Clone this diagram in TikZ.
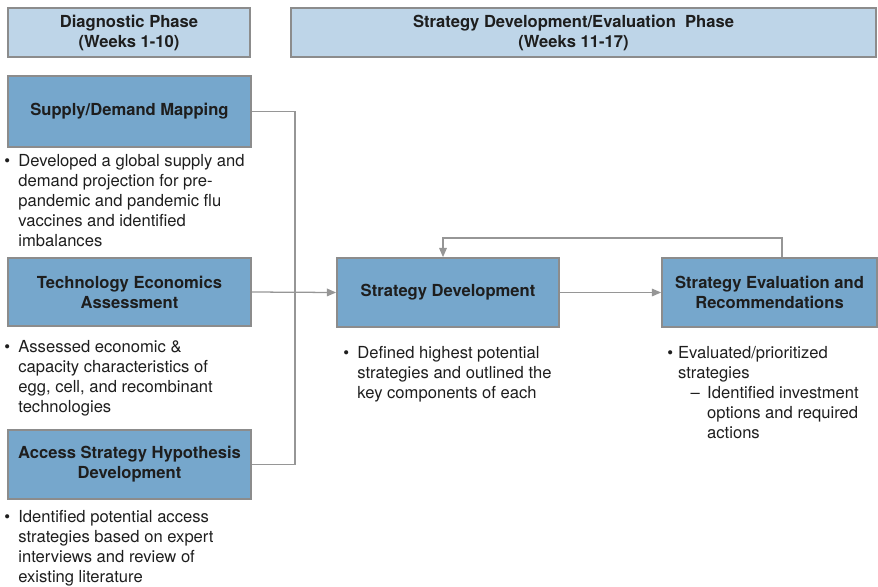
\documentclass[tikz,border=0pt]{standalone}
\usepackage{fontspec}
\setmainfont{TeX Gyre Heros}
\usetikzlibrary{arrows.meta}
\definecolor{headblue}{RGB}{190,213,232}
\definecolor{boxblue}{RGB}{118,167,204}
\definecolor{edgegray}{RGB}{140,140,140}
\definecolor{linkgray}{RGB}{150,150,150}
\definecolor{inkdark}{RGB}{30,30,30}
\newcommand{\bul}{\textbullet\hspace{0.5em}}
\newcommand{\ind}{\phantom{\bul}}
\newcommand{\subind}{\phantom{\textbullet\hspace{0.3em}}\hspace*{0.75em}}
\begin{document}
\begin{tikzpicture}[x=0.025cm, y=-0.025cm,
  font=\fontsize{11.8}{14.2}\selectfont, text=inkdark,
  head/.style={draw=edgegray, line width=1.2pt, fill=headblue, align=center,
               font=\fontsize{11.8}{14.2}\selectfont\bfseries, minimum height=1.225cm},
  box/.style={draw=edgegray, line width=1.2pt, fill=boxblue, align=center,
              font=\fontsize{11.8}{14.2}\selectfont\bfseries, minimum height=1.725cm},
  note/.style={anchor=north west, inner sep=0pt, align=left},
  link/.style={draw=linkgray, line width=0.9pt},
  arr/.style={link, -{Triangle[length=2.3mm, width=1.9mm]}}
]
  \useasboundingbox (0,0) rectangle (878,586);
  % phases
  \node[head, minimum width=6.05cm]   (diag)  at (129,32.5) {Diagnostic Phase\\(Weeks 1-10)};
  \node[head, minimum width=14.625cm] (strat) at (583.5,32.5) {Strategy Development/Evaluation\ \ Phase\hspace*{0.5cm}\\(Weeks 11-17)\hspace*{0.5cm}};
  % diagnostic work streams
  \node[box, minimum width=6.075cm, minimum height=1.775cm] (supply) at (129.5,111.5) {Supply/Demand Mapping};
  \node[box, minimum width=6.075cm, minimum height=1.7cm]   (tech)   at (129.5,292)   {Technology Economics\\Assessment};
  \node[box, minimum width=6.075cm]                         (access) at (129.5,464.5) {Access Strategy Hypothesis\\Development};
  \node[note] (supplytxt) at (4,154)
       {\bul Developed a global supply and\\\ind demand projection for pre-\\\ind pandemic and pandemic flu\\\ind vaccines and identified\\\ind imbalances};
  \node[note] (techtxt) at (4,340)
       {\bul Assessed economic \&\\\ind capacity characteristics of\\\ind egg, cell, and recombinant\\\ind technologies};
  \node[note] (accesstxt) at (4,510)
       {\bul Identified potential access\\\ind strategies based on expert\\\ind interviews and review of\\\ind existing literature};
  % strategy phase
  \node[box, minimum width=5.55cm]  (dev)  at (448,292.5)   {Strategy Development};
  \node[box, minimum width=5.375cm] (eval) at (769.5,292.5) {Strategy Evaluation and\\Recommendations};
  \node[note] (devtxt) at (343,346)
       {\bul Defined highest potential\\\ind strategies and outlined the\\\ind key components of each};
  \node[note] (evaltxt) at (667,346)
       {\textbullet\hspace{0.3em}Evaluated/prioritized\\\phantom{\textbullet\hspace{0.3em}}strategies\\\subind--\hspace{0.45em}Identified investment\\\subind\phantom{--\hspace{0.45em}}options and required\\\subind\phantom{--\hspace{0.45em}}actions};
  % connectors
  \coordinate (bus) at (295,0);
  \draw[link] (supply.east) -- (supply.east -| bus) -- (access.east -| bus) -- (access.east);
  \draw[arr] (tech.east) -- (dev.west);
  \draw[arr] (dev.east) -- (eval.west);
  \coordinate (backr) at (782,238);
  \coordinate (backl) at (443,238);
  \draw[arr] (eval.north -| backr) -- (backr) -- (backl) -- (backl |- dev.north);
\end{tikzpicture}
\end{document}
